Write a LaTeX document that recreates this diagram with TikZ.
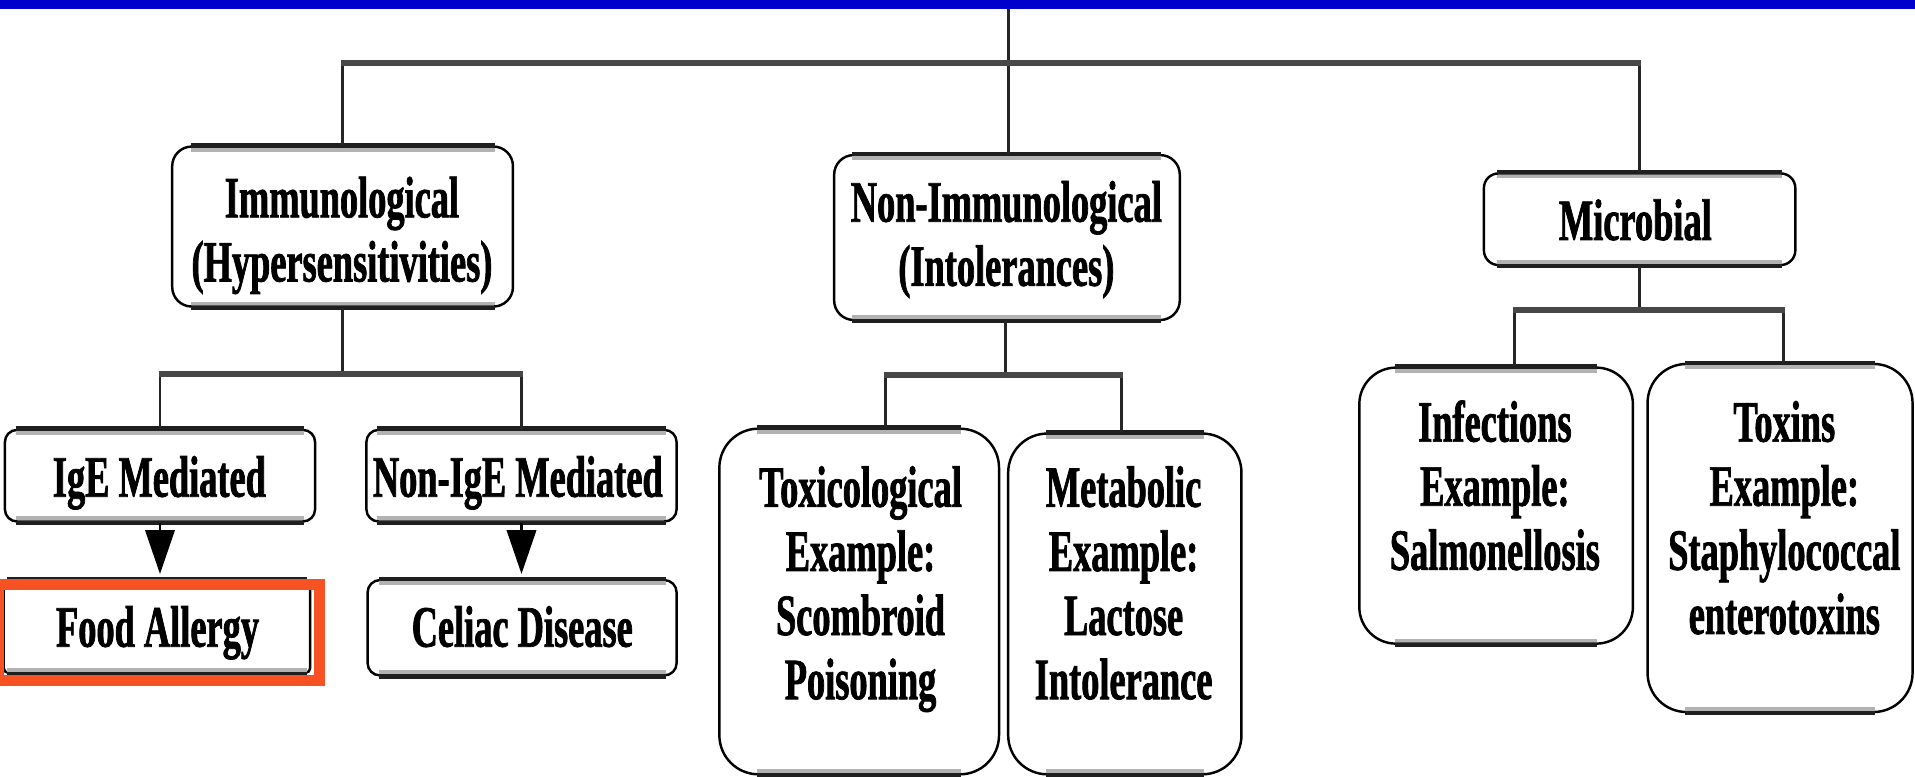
\documentclass[tikz,border=0pt]{standalone}
\usepackage{fontspec}
\usetikzlibrary{arrows.meta}
\newfontfamily\boxfont{Liberation Serif}[FakeStretch=0.62,FakeBold=1.2]
\definecolor{barblue}{RGB}{0,0,204}
\definecolor{hlred}{RGB}{247,82,36}
\newcommand\boxlines[1]{\vtop{\halign{\hfil##\hfil\cr#1\crcr}}}
\newcommand\edges[2]{%
  \draw[edgeband] ([xshift=#2,yshift=-3.6pt]#1.north west) -- ([xshift=-#2,yshift=-3.6pt]#1.north east);
  \draw[edgeline] ([xshift=#2]#1.north west) -- ([xshift=-#2]#1.north east);
  \draw[edgeband] ([xshift=#2,yshift=3.6pt]#1.south west) -- ([xshift=-#2,yshift=3.6pt]#1.south east);
  \draw[edgeline] ([xshift=#2]#1.south west) -- ([xshift=-#2]#1.south east);}
\tikzset{
  box/.style={draw=black, line width=2pt, fill=white, inner sep=0pt, rounded corners=#1},
  box/.default=10pt,
  edgeline/.style={line width=3.6pt, draw=black!88},
  edgeband/.style={line width=3pt, draw=black!30},
  txt/.style={font=\boxfont\bfseries\fontsize{48}{52.5}\selectfont, inner sep=0pt, anchor=base},
  vconn/.style={line width=2.3pt, draw=black!85},
  hconn/.style={line width=4.8pt, draw=black!72, shorten <=-1.2pt, shorten >=-1.2pt},
  arr/.style={line width=2.3pt, draw=black, -{Triangle[width=24pt,length=36pt]}, shorten >=4pt},
}
\begin{document}
\begin{tikzpicture}[x=1pt,y=-1pt]
\useasboundingbox (0,0) rectangle (1568,636);
\fill[white] (0,0) rectangle (1568,636);
% title bar
\node[fill=barblue, minimum width=1568pt, minimum height=7pt, inner sep=0pt, anchor=north west] (titlebar) at (0,0) {};
% boxes
\node[box=16pt, minimum width=279pt, minimum height=131pt] (imm) at (280.5,185.5) {};
\node[box=16pt, minimum width=283pt, minimum height=135pt] (nonimm) at (824.5,194.5) {};
\node[box=12pt, minimum width=255pt, minimum height=75pt] (micro) at (1342.5,179.5) {};
\node[box=10pt, minimum width=254pt, minimum height=75pt] (ige) at (131,389.5) {};
\node[box=10pt, minimum width=254pt, minimum height=75pt] (nonige) at (427,389.5) {};
\node[box=4pt, minimum width=251pt, minimum height=76pt] (food) at (128.5,513) {};
\node[box=10pt, minimum width=253pt, minimum height=78pt] (celiac) at (427.5,514) {};
\node[box=32pt, minimum width=229pt, minimum height=283pt] (tox) at (703.5,492.5) {};
\node[box=32pt, minimum width=191pt, minimum height=279pt] (meta) at (921,494.5) {};
\node[box=30pt, minimum width=224pt, minimum height=226pt] (infect) at (1225,414) {};
\node[box=32pt, minimum width=217pt, minimum height=285pt] (toxins) at (1457.5,440.5) {};
% thick top and bottom edges
\edges{imm}{16pt}
\edges{nonimm}{16pt}
\edges{micro}{12pt}
\edges{ige}{10pt}
\edges{nonige}{10pt}
\edges{food}{4pt}
\edges{celiac}{10pt}
\edges{tox}{32pt}
\edges{meta}{32pt}
\edges{infect}{30pt}
\edges{toxins}{32pt}
% texts
\node[txt] (t-imm) at (280,178) {\boxlines{Immunological\cr (Hypersensitivities)}};
\node[txt] (t-nonimm) at (824,181.5) {\boxlines{Non-Immunological\cr (Intolerances)}};
\node[txt] (t-micro) at (1339,196.5) {Microbial};
\node[txt] (t-ige) at (130.5,406.7) {IgE Mediated};
\node[txt] (t-nonige) at (424,406.7) {Non-IgE Mediated};
\node[txt] (t-food) at (129,529.5) {Food Allergy};
\node[txt] (t-celiac) at (427.6,529.5) {Celiac Disease};
\node[txt] (t-tox) at (704.6,415) {\boxlines{Toxicological\cr Example:\cr Scombroid\cr Poisoning}};
\node[txt] (t-meta) at (920,415) {\boxlines{Metabolic\cr Example:\cr Lactose\cr Intolerance}};
\node[txt] (t-infect) at (1224,361.6) {\boxlines{Infections\cr Example:\cr Salmonellosis}};
\node[txt] (t-toxins) at (1461,361.6) {\boxlines{Toxins\cr Example:\cr Staphylococcal\cr enterotoxins}};
% connector coordinates
\coordinate (topbar) at (826,51.6);
\coordinate (immbar) at (278,306);
\coordinate (nonimmbar) at (823,307);
\coordinate (toxdrop) at (725,307);
\coordinate (metadrop) at (918,307);
\coordinate (microbar) at (1343,254);
\coordinate (infdrop) at (1240,254);
\coordinate (toxinsdrop) at (1460,254);
% top level
\draw[vconn] (titlebar.south -| topbar) -- (topbar |- nonimm.north);
\draw[vconn] (imm.north |- topbar) -- (imm.north);
\draw[vconn] (micro.north |- topbar) -- (micro.north);
\draw[hconn] (imm.north |- topbar) -- (micro.north |- topbar);
% immunological branch
\draw[vconn] (imm.south) -- (imm.south |- immbar);
\draw[vconn] (ige.north |- immbar) -- (ige.north);
\draw[vconn] (nonige.north |- immbar) -- (nonige.north);
\draw[hconn] (ige.north |- immbar) -- (nonige.north |- immbar);
\draw[arr] (ige.south) -- (ige.south |- food.north);
\draw[arr] (nonige.south) -- (nonige.south |- celiac.north);
% non-immunological branch
\draw[vconn] (nonimmbar |- nonimm.south) -- (nonimmbar);
\draw[vconn] (toxdrop) -- (toxdrop |- tox.north);
\draw[vconn] (metadrop) -- (metadrop |- meta.north);
\draw[hconn] (toxdrop) -- (metadrop);
% microbial branch
\draw[vconn] (micro.south) -- (micro.south |- microbar);
\draw[vconn] (infdrop) -- (infdrop |- infect.north);
\draw[vconn] (toxinsdrop) -- (toxinsdrop |- toxins.north);
\draw[hconn] (infdrop) -- (toxinsdrop);
% highlight
\node[draw=hlred, line width=9pt, inner sep=0pt, minimum width=263pt, minimum height=79pt] (hl) at (130.5,518) {};
\end{tikzpicture}
\end{document}
